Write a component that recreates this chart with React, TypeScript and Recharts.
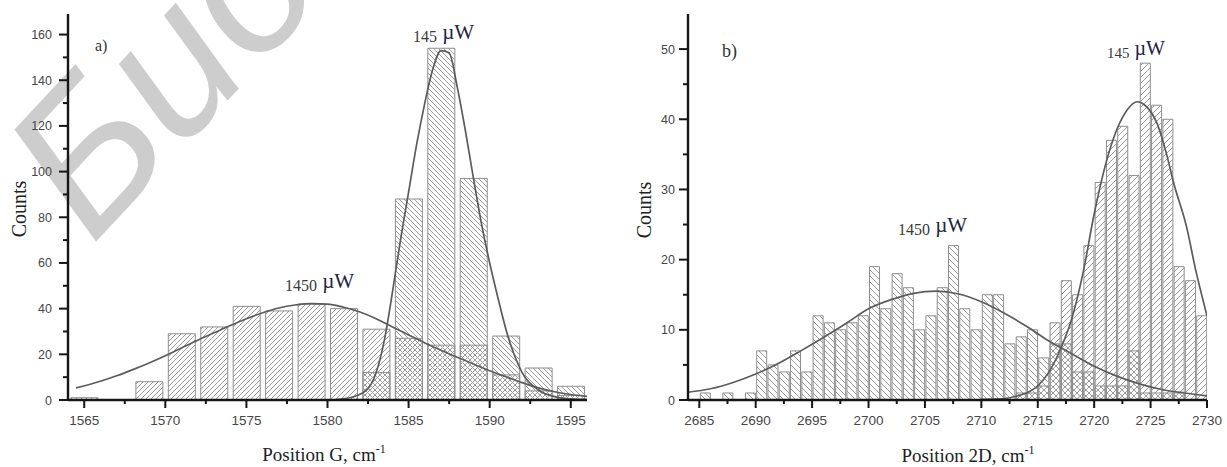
import React from 'react';
import { ComposedChart, Bar, Line, XAxis, YAxis } from 'recharts';

// panel a) – G band
const gBins = [1565, 1569, 1571, 1573, 1575, 1577, 1579, 1581, 1583, 1585, 1587, 1589, 1591, 1593, 1595];
const gCounts1450 = [1, 8, 29, 32, 41, 39, 42, 40, 31, 27, 24, 24, 11, 4, 2];
const gCounts145 = [0, 0, 0, 0, 0, 0, 0, 0, 12, 88, 154, 97, 28, 14, 6];

const gFit1450X = [1564.5, 1566, 1567, 1568, 1569, 1570, 1571, 1572, 1573, 1574, 1575, 1576, 1577, 1578, 1579, 1580, 1581, 1582, 1583, 1584, 1585, 1586, 1587, 1588, 1589, 1590, 1591, 1592, 1593, 1594, 1595, 1596];
const gFit1450Y = [5.3, 8.2, 10.6, 13.3, 16.2, 19.4, 22.8, 26.2, 29.4, 32.6, 35.6, 38.2, 40.3, 41.6, 42.2, 42, 40.6, 38.5, 35.6, 32, 28.5, 25, 21.8, 18.7, 15.8, 12.8, 10.2, 7.6, 5.3, 3.6, 2.4, 1.6];
const gFit145X = [1580.5, 1581.5, 1582.5, 1583, 1583.5, 1584, 1584.5, 1585, 1585.5, 1586, 1586.5, 1587, 1587.5, 1588, 1588.5, 1589, 1589.5, 1590, 1590.5, 1591, 1591.5, 1592, 1593, 1594, 1595, 1596];
const gFit145Y = [0.2, 1.2, 5, 12, 26, 47, 70, 91, 112, 130, 145, 153, 152, 137, 118, 97, 77, 60, 45, 31, 20, 12, 4.4, 1.5, 0.5, 0.2];

const gXTicks = [1565, 1567.5, 1570, 1572.5, 1575, 1577.5, 1580, 1582.5, 1585, 1587.5, 1590, 1592.5, 1595];
const gXLabels = [1565, 1570, 1575, 1580, 1585, 1590, 1595];
const gYTicks = [0, 10, 20, 30, 40, 50, 60, 70, 80, 90, 100, 110, 120, 130, 140, 150, 160];
const gYLabels = [0, 20, 40, 60, 80, 100, 120, 140, 160];

// panel b) – 2D band
const dBins = [2685.5, 2686.5, 2687.5, 2688.5, 2689.5, 2690.5, 2691.5, 2692.5, 2693.5, 2694.5, 2695.5, 2696.5, 2697.5, 2698.5, 2699.5, 2700.5, 2701.5, 2702.5, 2703.5, 2704.5, 2705.5, 2706.5, 2707.5, 2708.5, 2709.5, 2710.5, 2711.5, 2712.5, 2713.5, 2714.5, 2715.5, 2716.5, 2717.5, 2718.5, 2719.5, 2720.5, 2721.5, 2722.5, 2723.5, 2724.5, 2725.5, 2726.5, 2727.5, 2728.5, 2729.5];
const dCounts1450 = [1, 0, 1, 0, 1, 7, 5, 4, 7, 4, 12, 11, 10, 11, 12, 19, 13, 18, 16, 10, 12, 16, 22, 13, 10, 15, 15, 8, 9, 10, 6, 8, 8, 4, 4, 2, 2, 2, 7, 1, 1, 1, 1, 0, 0];
const dCounts145 = [0, 0, 0, 0, 0, 0, 0, 0, 0, 0, 0, 0, 0, 0, 0, 0, 0, 0, 0, 0, 0, 0, 0, 0, 0, 0, 0, 0, 1, 1, 2, 11, 17, 15, 22, 31, 37, 39, 32, 48, 42, 40, 19, 17, 12];

const dFit1450X = [2684, 2686, 2688, 2690, 2692, 2694, 2696, 2698, 2700, 2702, 2704, 2706, 2708, 2710, 2712, 2714, 2716, 2718, 2720, 2722, 2724, 2726, 2728, 2730];
const dFit1450Y = [1.1, 1.6, 2.5, 3.7, 5.2, 7, 8.9, 10.9, 13, 14.3, 15.2, 15.5, 15.1, 14, 12.4, 10.5, 8.4, 6.6, 4.8, 3.4, 2.3, 1.5, 1, 0.6];
const dFit145X = [2710, 2712, 2713, 2714, 2715, 2716, 2717, 2718, 2719, 2720, 2721, 2722, 2723, 2723.8, 2724.5, 2725.6, 2726.5, 2727, 2728.2, 2729, 2730];
const dFit145Y = [0.1, 0.2, 0.5, 1, 2, 4, 7.2, 11.5, 18, 26.5, 33.5, 38.5, 41.5, 42.5, 42, 39.3, 34.5, 31.2, 24.6, 18.5, 12];

const dXTicks = [2685, 2687.5, 2690, 2692.5, 2695, 2697.5, 2700, 2702.5, 2705, 2707.5, 2710, 2712.5, 2715, 2717.5, 2720, 2722.5, 2725, 2727.5, 2730];
const dXLabels = [2685, 2690, 2695, 2700, 2705, 2710, 2715, 2720, 2725, 2730];
const dYTicks = [0, 5, 10, 15, 20, 25, 30, 35, 40, 45, 50];
const dYLabels = [0, 10, 20, 30, 40, 50];

const H = 467;
const AXIS = '#161616';
const TICK_TXT = '#474747';
const BAR_EDGE = '#8e8e8e';
const HATCH = '#9c9c9c';
const FIT = '#5c5c5c';
const SANS = '"Liberation Sans", Arial, sans-serif';
const SERIF = '"Liberation Serif", "Times New Roman", serif';

const toPoints = (xs: number[], ys: number[]) => xs.map((x, i) => ({ x, y: ys[i] }));

const makeXTick = (labels: number[]) => (props: any) => {
  const { x, y, payload } = props;
  const major = labels.includes(payload.value);
  return (
    <g>
      <line x1={x} x2={x} y1={y} y2={y + (major ? 8 : 4)} stroke={AXIS} strokeWidth={2} />
      {major && (
        <text x={x} y={y + 25} textAnchor="middle" fontSize={13.5} fontFamily={SANS} fill={TICK_TXT}>
          {payload.value}
        </text>
      )}
    </g>
  );
};

const makeYTick = (labels: number[], gap: number) => (props: any) => {
  const { x, y, payload } = props;
  const major = labels.includes(payload.value);
  return (
    <g>
      <line x1={x - (major ? 9 : 5)} x2={x} y1={y} y2={y} stroke={AXIS} strokeWidth={2} />
      {major && (
        <text x={x - gap} y={y + 4.5} textAnchor="end" fontSize={12.5} fontFamily={SANS} fill={TICK_TXT}>
          {payload.value}
        </text>
      )}
    </g>
  );
};

interface PanelProps {
  id: string;
  left: number;
  width: number;
  axisW: number;
  rightM: number;
  bins: number[];
  c1450: number[];
  c145: number[];
  fit1450: { x: number; y: number }[];
  fit145: { x: number; y: number }[];
  xDomain: [number, number];
  yDomain: [number, number];
  xTicks: number[];
  xLabels: number[];
  yTicks: number[];
  yLabels: number[];
  barSize: number;
  step: number;
  flip: boolean; // which series gets the "/" hatch
  gap: number;
}

function Panel(p: PanelProps) {
  const rows = p.bins.map((x, i) => ({
    x,
    a: p.c1450[i] ? p.c1450[i] : null,
    b: p.c145[i] ? p.c145[i] : null,
  }));
  const s = p.step;
  const fwd = `${p.id}-fwd`;
  const back = `${p.id}-back`;
  const axisLine = { stroke: AXIS, strokeWidth: 2.4 };
  return (
    <div style={{ position: 'absolute', left: p.left, top: 0 }}>
      <ComposedChart width={p.width} height={H} data={rows} margin={{ top: 14, right: p.rightM, bottom: 0, left: 0 }}>
        <defs>
          <pattern id={fwd} patternUnits="userSpaceOnUse" width={s} height={s}>
            <path d={`M-1,1 L1,-1 M0,${s} L${s},0 M${s - 1},${s + 1} L${s + 1},${s - 1}`} stroke={HATCH} strokeWidth={1} />
          </pattern>
          <pattern id={back} patternUnits="userSpaceOnUse" width={s} height={s}>
            <path d={`M-1,${s - 1} L1,${s + 1} M0,0 L${s},${s} M${s - 1},-1 L${s + 1},1`} stroke={HATCH} strokeWidth={1} />
          </pattern>
        </defs>
        <XAxis
          xAxisId="bx"
          dataKey="x"
          type="number"
          domain={p.xDomain}
          allowDataOverflow
          ticks={p.xTicks}
          interval={0}
          height={67}
          tickSize={0}
          tickMargin={0}
          tickLine={false}
          axisLine={axisLine}
          tick={makeXTick(p.xLabels)}
        />
        <XAxis
          xAxisId="tx"
          orientation="top"
          dataKey="x"
          type="number"
          domain={p.xDomain}
          allowDataOverflow
          height={0}
          tick={false}
          tickLine={false}
          axisLine={axisLine}
        />
        {/* separate hidden axis for the fitted curves so they don't shrink the bars */}
        <XAxis xAxisId="lx" dataKey="x" type="number" domain={p.xDomain} allowDataOverflow hide />
        <YAxis
          yAxisId="ly"
          type="number"
          domain={p.yDomain}
          allowDataOverflow
          ticks={p.yTicks}
          interval={0}
          width={p.axisW}
          tickSize={0}
          tickMargin={0}
          tickLine={false}
          axisLine={axisLine}
          tick={makeYTick(p.yLabels, p.gap)}
        />
        <YAxis yAxisId="ry" orientation="right" type="number" domain={[0, 1]} width={0} tick={false} tickLine={false} axisLine={axisLine} />
        <Bar
          xAxisId="bx"
          yAxisId="ly"
          dataKey="a"
          barSize={p.barSize}
          fill={`url(#${p.flip ? back : fwd})`}
          stroke={BAR_EDGE}
          strokeWidth={1}
          isAnimationActive={false}
        />
        <Bar
          xAxisId="tx"
          yAxisId="ly"
          dataKey="b"
          barSize={p.barSize}
          fill={`url(#${p.flip ? fwd : back})`}
          stroke={BAR_EDGE}
          strokeWidth={1}
          isAnimationActive={false}
        />
        <Line xAxisId="lx" yAxisId="ly" data={p.fit1450} dataKey="y" type="monotone" dot={false} stroke={FIT} strokeWidth={1.7} isAnimationActive={false} />
        <Line xAxisId="lx" yAxisId="ly" data={p.fit145} dataKey="y" type="monotone" dot={false} stroke={FIT} strokeWidth={1.7} isAnimationActive={false} />
      </ComposedChart>
    </div>
  );
}

function PowerLabel({ x, y, num, size }: { x: number; y: number; num: string; size: number }) {
  return (
    <text x={x} y={y} fontFamily={SERIF}>
      <tspan fontSize={size} fill="#3a3a3a">{num}</tspan>
      <tspan fontSize={size + 5} fill="#1e2440" dy={-3}>{'\u00a0µW'}</tspan>
    </text>
  );
}

export default function App() {
  return (
    <div style={{ position: 'absolute', left: 0, top: 0, width: 1227, height: H, background: '#fff', overflow: 'hidden' }}>
      {/* watermark */}
      <svg width={1227} height={H} style={{ position: 'absolute', left: 0, top: 0 }}>
        <text
          x={92}
          y={246}
          transform="rotate(-47 92 246)"
          fontSize={198}
          fontStyle="italic"
          fontFamily={SANS}
          fill="#cdcdcd"
        >
          Био
        </text>
      </svg>
      <Panel
        id="g"
        left={0}
        width={600}
        axisW={68}
        rightM={13}
        bins={gBins}
        c1450={gCounts1450}
        c145={gCounts145}
        fit1450={toPoints(gFit1450X, gFit1450Y)}
        fit145={toPoints(gFit145X, gFit145Y)}
        xDomain={[1564, 1596]}
        yDomain={[0, 169]}
        xTicks={gXTicks}
        xLabels={gXLabels}
        yTicks={gYTicks}
        yLabels={gYLabels}
        barSize={27}
        step={5}
        flip={false}
        gap={16}
      />
      <Panel
        id="d"
        left={600}
        width={627}
        axisW={88}
        rightM={20}
        bins={dBins}
        c1450={dCounts1450}
        c145={dCounts145}
        fit1450={toPoints(dFit1450X, dFit1450Y)}
        fit145={toPoints(dFit145X, dFit145Y)}
        xDomain={[2684, 2730]}
        yDomain={[0, 55]}
        xTicks={dXTicks}
        xLabels={dXLabels}
        yTicks={dYTicks}
        yLabels={dYLabels}
        barSize={10}
        step={6}
        flip={true}
        gap={13}
      />
      {/* annotations */}
      <svg width={1227} height={H} style={{ position: 'absolute', left: 0, top: 0, pointerEvents: 'none' }}>
        <text x={95} y={51} fontSize={16} fontFamily={SERIF} fill="#333">a)</text>
        <text x={722} y={57} fontSize={18} fontFamily={SERIF} fill="#333">b)</text>
        <PowerLabel x={413} y={42} num="145" size={16} />
        <PowerLabel x={285} y={291} num="1450" size={16} />
        <PowerLabel x={1107} y={58} num="145" size={15} />
        <PowerLabel x={898} y={235} num="1450" size={16} />
        <text transform="translate(26 209) rotate(-90)" textAnchor="middle" fontSize={20} fontFamily={SERIF} fill="#222">Counts</text>
        <text transform="translate(651 210) rotate(-90)" textAnchor="middle" fontSize={20} fontFamily={SERIF} fill="#222">Counts</text>
        <text x={324} y={461} textAnchor="middle" fontSize={19} fontFamily={SERIF} fill="#222">
          Position G, cm<tspan fontSize={12} dy={-8}>-1</tspan>
        </text>
        <text x={968} y={462} textAnchor="middle" fontSize={19} fontFamily={SERIF} fill="#222">
          Position 2D, cm<tspan fontSize={12} dy={-8}>-1</tspan>
        </text>
      </svg>
    </div>
  );
}
